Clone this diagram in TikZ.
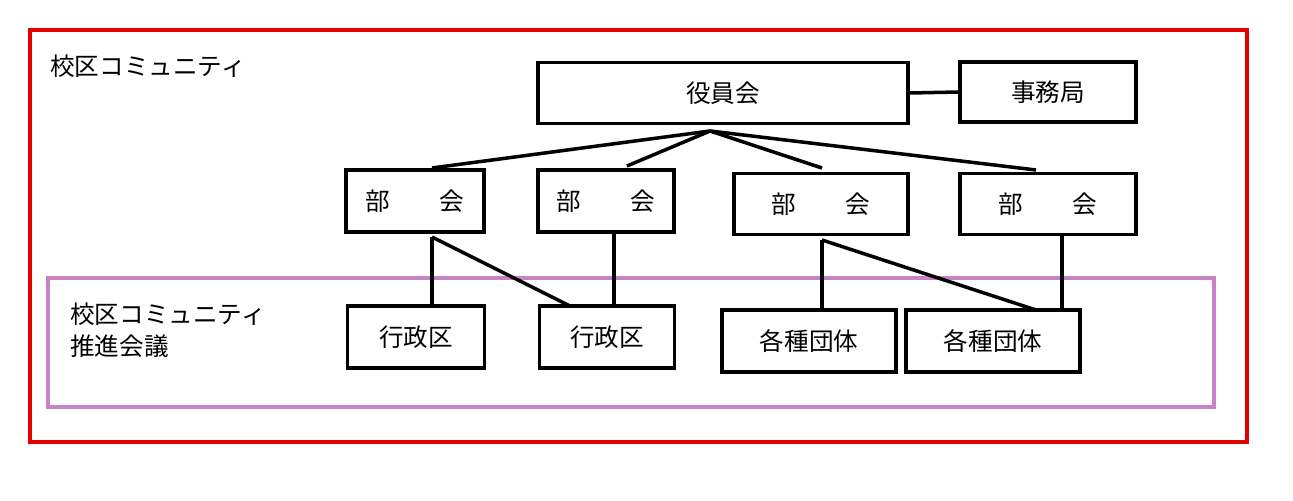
\documentclass[tikz,border=0pt]{standalone}
\usepackage{fontspec}
\newfontfamily\cjk{Noto Sans CJK JP}
\begin{document}
\begin{tikzpicture}[x=0.02cm,y=-0.02cm,
  box/.style={draw,line width=2pt,inner sep=0pt,font=\cjk\fontsize{14}{17}\selectfont},
  lk/.style={line width=2pt},
  lbl/.style={font=\cjk\fontsize{14}{18}\selectfont,anchor=west,inner sep=0pt}]
\useasboundingbox (0,0) rectangle (1293,500);
\draw[red!90!black,line width=2pt] (30,30) rectangle (1247,442);
\draw[color={rgb,255:red,200;green,130;blue,200},line width=1.8pt] (48,278) rectangle (1214,407);
\node[lbl] (t1) at (50,66) {校区コミュニティ};
\node[lbl,align=left] (t2) at (70,330) {校区コミュニティ\\推進会議};
\node[box,minimum width=7.4cm,minimum height=1.22cm] (yk) at (723,93) {役員会};
\node[box,minimum width=3.52cm,minimum height=1.2cm] (jm) at (1048,92) {事務局};
\draw[lk] (yk.east) -- (jm.west);
\node[box,minimum width=2.76cm,minimum height=1.24cm] (b1) at (415,201) {部\hspace{2em}会};
\node[box,minimum width=2.72cm,minimum height=1.24cm] (b2) at (606,201) {部\hspace{2em}会};
\node[box,minimum width=3.48cm,minimum height=1.22cm] (b3) at (821,204) {部\hspace{2em}会};
\node[box,minimum width=3.52cm,minimum height=1.22cm] (b4) at (1048,204) {部\hspace{2em}会};
\coordinate (c0) at (710,131);
\draw[lk] (c0) -- (432,168);
\draw[lk] (c0) -- (627,166);
\draw[lk] (c0) -- (822,168);
\draw[lk] (c0) -- (1036,170);
\node[box,minimum width=2.74cm,minimum height=1.24cm] (g1) at (416,337) {行政区};
\node[box,minimum width=2.7cm,minimum height=1.24cm] (g2) at (607,337) {行政区};
\node[box,minimum width=3.48cm,minimum height=1.24cm] (k1) at (809,341) {各種団体};
\node[box,minimum width=3.48cm,minimum height=1.24cm] (k2) at (993,341) {各種団体};
\coordinate (d1) at (432,237);
\coordinate (d3) at (822,240);
\draw[lk] (d1) -- (432,306);
\draw[lk] (d1) -- (570,306);
\draw[lk] (614,233) -- (614,306);
\draw[lk] (d3) -- (822,310);
\draw[lk] (d3) -- (1036,310);
\draw[lk] (1062,236) -- (1062,310);
\end{tikzpicture}
\end{document}
